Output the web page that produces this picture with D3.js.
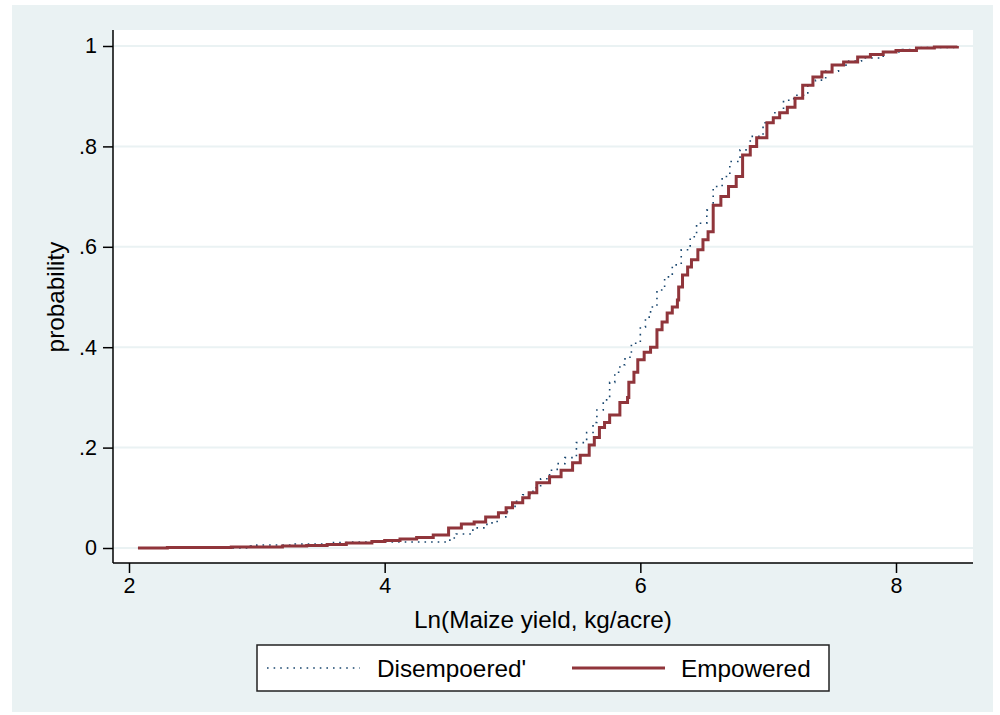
<!DOCTYPE html>
<html>
<head>
<meta charset="utf-8">
<script src="https://cdn.jsdelivr.net/npm/d3@7"></script>
<style>
  body { margin: 0; background: #fff; }
  svg { display: block; font-family: "Liberation Sans", Arial, sans-serif; }
</style>
</head>
<body>
<div id="chart"></div>
<script>
// ECDF knots: [ln yield, cumulative probability]
const empowered = [
  [2.07, 0.000], [2.30, 0.001], [2.80, 0.002], [3.20, 0.004], [3.39, 0.005],
  [3.55, 0.007], [3.70, 0.010], [3.90, 0.013], [4.00, 0.015], [4.12, 0.018],
  [4.25, 0.021], [4.38, 0.026], [4.50, 0.040], [4.60, 0.048], [4.70, 0.052],
  [4.79, 0.062], [4.89, 0.070], [4.95, 0.080], [5.00, 0.090], [5.08, 0.100],
  [5.13, 0.110], [5.19, 0.130], [5.29, 0.142], [5.38, 0.155], [5.47, 0.170],
  [5.53, 0.185], [5.60, 0.205], [5.64, 0.220], [5.68, 0.240], [5.72, 0.250],
  [5.76, 0.265], [5.84, 0.290], [5.90, 0.300], [5.91, 0.330], [5.95, 0.350],
  [5.98, 0.375], [6.03, 0.390], [6.08, 0.400], [6.13, 0.435], [6.17, 0.450],
  [6.21, 0.468], [6.25, 0.480], [6.29, 0.494], [6.30, 0.520], [6.33, 0.544],
  [6.37, 0.560], [6.40, 0.574], [6.45, 0.594], [6.49, 0.614], [6.53, 0.630],
  [6.57, 0.683], [6.63, 0.700], [6.69, 0.720], [6.75, 0.740], [6.80, 0.783],
  [6.86, 0.800], [6.91, 0.817], [6.99, 0.847], [7.04, 0.857], [7.09, 0.867],
  [7.15, 0.878], [7.21, 0.896], [7.27, 0.922], [7.35, 0.938], [7.42, 0.948],
  [7.50, 0.962], [7.59, 0.968], [7.70, 0.978], [7.80, 0.983], [7.90, 0.988],
  [8.00, 0.991], [8.16, 0.996], [8.30, 0.998], [8.48, 1.000]
];

const disempowered = [
  [2.50, 0.000], [2.95, 0.004], [3.00, 0.006], [3.30, 0.008], [3.60, 0.011],
  [3.75, 0.012], [4.51, 0.020], [4.56, 0.028], [4.69, 0.040], [4.80, 0.050],
  [4.88, 0.062], [4.96, 0.080], [5.02, 0.093], [5.08, 0.106], [5.16, 0.120],
  [5.22, 0.138], [5.29, 0.155], [5.35, 0.168], [5.41, 0.180], [5.50, 0.210],
  [5.58, 0.230], [5.63, 0.250], [5.66, 0.275], [5.71, 0.295], [5.76, 0.330],
  [5.80, 0.350], [5.84, 0.365], [5.88, 0.380], [5.93, 0.408], [6.00, 0.440],
  [6.04, 0.460], [6.08, 0.480], [6.13, 0.514], [6.19, 0.540], [6.25, 0.564],
  [6.32, 0.594], [6.39, 0.620], [6.44, 0.647], [6.52, 0.673], [6.57, 0.720],
  [6.64, 0.740], [6.70, 0.770], [6.78, 0.793], [6.86, 0.820], [6.96, 0.847],
  [7.04, 0.867], [7.12, 0.892], [7.20, 0.902], [7.31, 0.922], [7.37, 0.932],
  [7.45, 0.950], [7.55, 0.962], [7.63, 0.970], [7.73, 0.976], [7.90, 0.988],
  [8.05, 0.993], [8.20, 0.997], [8.45, 1.000]
];

const xTicks = [2, 4, 6, 8];
const yTicks = [0, 0.2, 0.4, 0.6, 0.8, 1];
const seriesNames = ["Disempoered'", "Empowered"];

const width = 1000, height = 715;
const bg = "#eaf2f3";
const red = "#90353b";
const blue = "#1a476f";

const svg = d3.select("#chart").append("svg")
  .attr("width", width)
  .attr("height", height);

// outer graph region
svg.append("rect")
  .attr("x", 12).attr("y", 5)
  .attr("width", 981).attr("height", 707)
  .attr("fill", bg);

const plot = { left: 113, right: 973, top: 30, bottom: 563 };

svg.append("rect")
  .attr("x", plot.left).attr("y", plot.top)
  .attr("width", plot.right - plot.left)
  .attr("height", plot.bottom - plot.top)
  .attr("fill", "#fff");

// 2 -> 129, 8 -> 896 ; 0 -> 548, 1 -> 46
const x = d3.scaleLinear().domain([2, 8]).range([129, 896]);
const y = d3.scaleLinear().domain([0, 1]).range([548, 46]);

// grid
svg.append("g")
  .selectAll("line")
  .data(yTicks)
  .join("line")
  .attr("x1", plot.left).attr("x2", plot.right)
  .attr("y1", (d) => y(d)).attr("y2", (d) => y(d))
  .attr("stroke", bg)
  .attr("stroke-width", 2);

const line = d3.line()
  .x((d) => x(d[0]))
  .y((d) => y(d[1]))
  .curve(d3.curveStepAfter);

svg.append("path")
  .datum(disempowered)
  .attr("fill", "none")
  .attr("stroke", blue)
  .attr("stroke-width", 1.6)
  .attr("stroke-dasharray", "1.6,5")
  .attr("d", line);

svg.append("path")
  .datum(empowered)
  .attr("fill", "none")
  .attr("stroke", red)
  .attr("stroke-width", 3)
  .attr("d", line);

// axes
const yAxis = svg.append("g")
  .attr("transform", `translate(${plot.left},0)`)
  .call(d3.axisLeft(y).tickValues(yTicks)
    .tickFormat((d) => (d === 0 ? "0" : d === 1 ? "1" : d3.format(".1f")(d).replace(/^0/, "")))
    .tickSize(10).tickPadding(6));
yAxis.select(".domain").attr("d", `M0,${plot.top}V${plot.bottom}`);

const xAxis = svg.append("g")
  .attr("transform", `translate(0,${plot.bottom})`)
  .call(d3.axisBottom(x).tickValues(xTicks).tickFormat(d3.format("d"))
    .tickSize(10).tickPadding(5));
xAxis.select(".domain").attr("d", `M${plot.left},0H${plot.right}`);

svg.selectAll(".domain, .tick line")
  .attr("stroke", "#000")
  .attr("stroke-width", 1.5);
svg.selectAll(".tick text")
  .attr("fill", "#000")
  .style("font-size", "21.5px")
  .style("font-family", "Liberation Sans, Arial, sans-serif");

// titles
svg.append("text")
  .attr("x", 543).attr("y", 628)
  .attr("text-anchor", "middle")
  .style("font-size", "24.3px")
  .text("Ln(Maize yield, kg/acre)");

svg.append("text")
  .attr("transform", "translate(64,297) rotate(-90)")
  .attr("text-anchor", "middle")
  .style("font-size", "24.3px")
  .text("probability");

// legend
const legend = svg.append("g");
legend.append("rect")
  .attr("x", 257).attr("y", 645)
  .attr("width", 572).attr("height", 46)
  .attr("fill", "#fff")
  .attr("stroke", "#222")
  .attr("stroke-width", 1.5);

const legendItems = [
  { name: seriesNames[0], color: blue, width: 1.6, dash: "1.6,5", x0: 267, x1: 360, tx: 377 },
  { name: seriesNames[1], color: red, width: 3, dash: null, x0: 572, x1: 665, tx: 681 }
];

legendItems.forEach((d) => {
  legend.append("line")
    .attr("x1", d.x0).attr("x2", d.x1)
    .attr("y1", 668).attr("y2", 668)
    .attr("stroke", d.color)
    .attr("stroke-width", d.width)
    .attr("stroke-dasharray", d.dash);
  legend.append("text")
    .attr("x", d.tx).attr("y", 677)
    .style("font-size", "24.3px")
    .text(d.name);
});
</script>
</body>
</html>
